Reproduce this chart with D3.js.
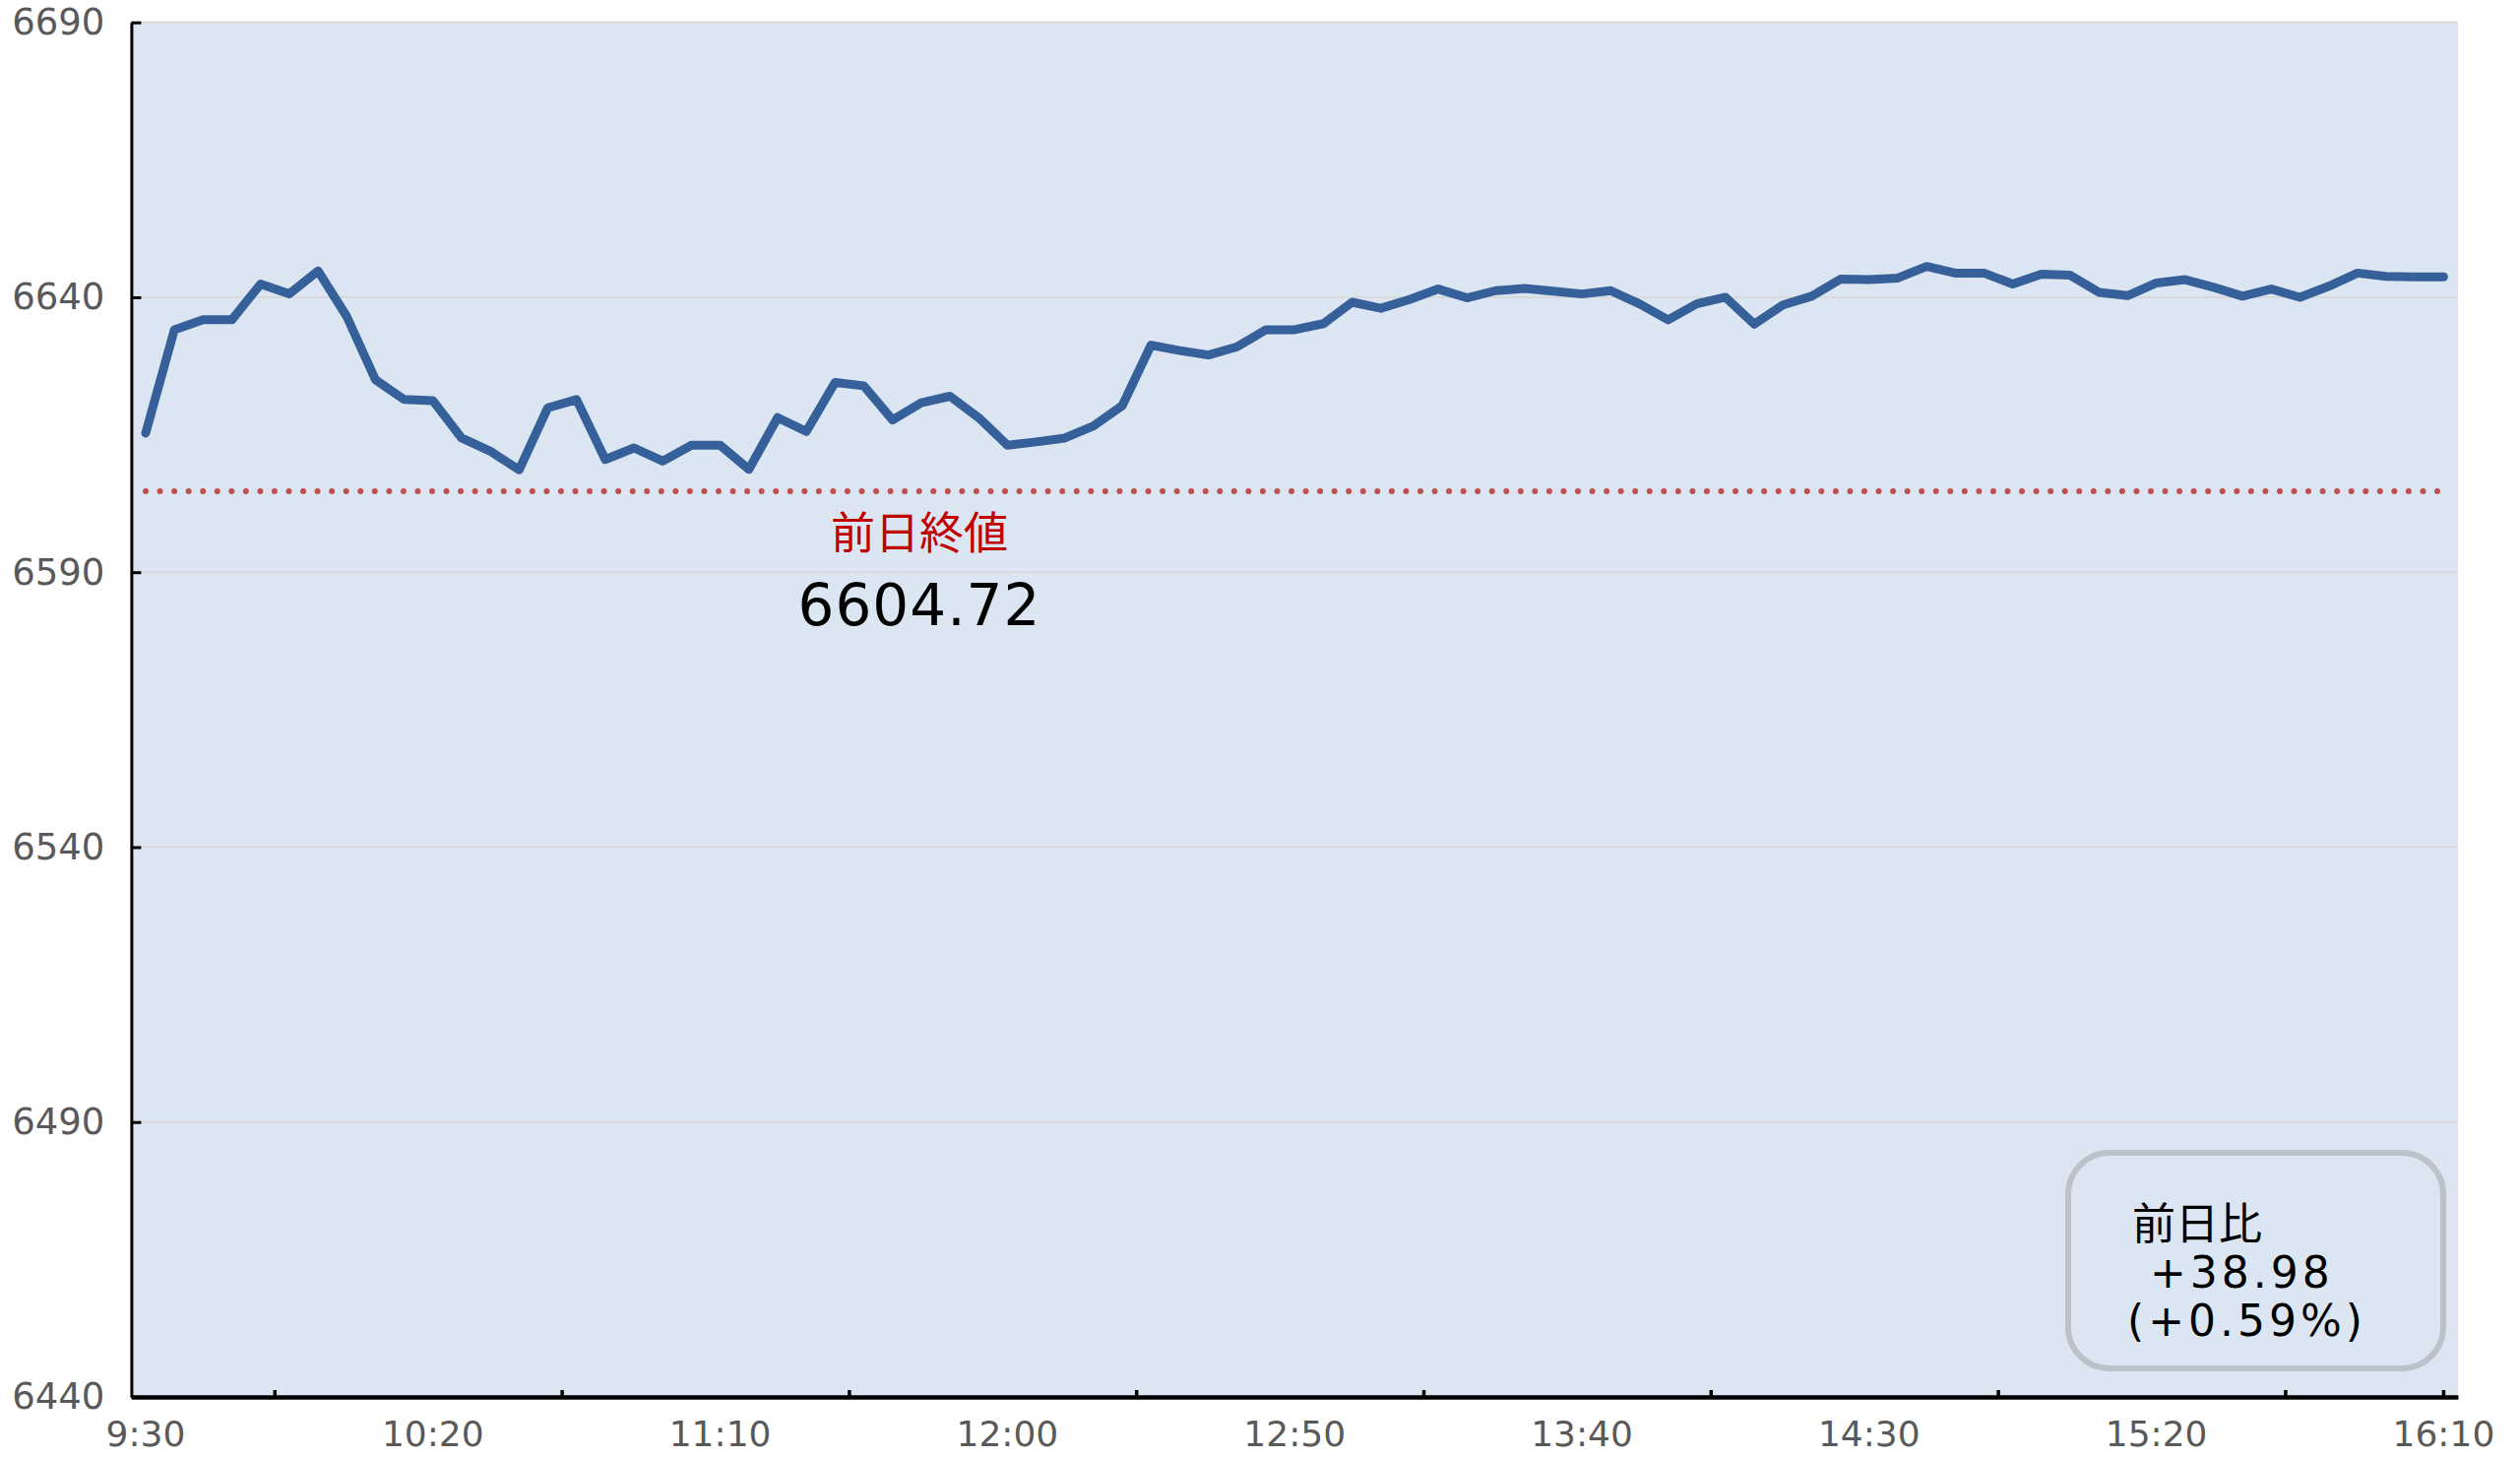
<!DOCTYPE html>
<html><head><meta charset="utf-8">
<script src="https://cdn.jsdelivr.net/npm/d3@7"></script>
<style>
html,body{margin:0;padding:0;background:#fff;}
svg{display:block;}
text{font-family:"DejaVu Sans","Noto Sans CJK JP",sans-serif;}
</style></head>
<body>
<svg id="chart" width="2560" height="1480"></svg>
<script>
const times = ["9:30","9:35","9:40","9:45","9:50","9:55","10:00","10:05","10:10","10:15",
"10:20","10:25","10:30","10:35","10:40","10:45","10:50","10:55","11:00","11:05",
"11:10","11:15","11:20","11:25","11:30","11:35","11:40","11:45","11:50","11:55",
"12:00","12:05","12:10","12:15","12:20","12:25","12:30","12:35","12:40","12:45",
"12:50","12:55","13:00","13:05","13:10","13:15","13:20","13:25","13:30","13:35",
"13:40","13:45","13:50","13:55","14:00","14:05","14:10","14:15","14:20","14:25",
"14:30","14:35","14:40","14:45","14:50","14:55","15:00","15:05","15:10","15:15",
"15:20","15:25","15:30","15:35","15:40","15:45","15:50","15:55","16:00","16:05","16:10"];
const prices = [6615.3,6634.1,6635.9,6635.9,6642.4,6640.6,6644.8,6636.5,6625.0,6621.4,
6621.2,6614.4,6612.0,6608.6,6619.9,6621.4,6610.5,6612.6,6610.2,6613.1,
6613.1,6608.7,6618.1,6615.6,6624.5,6623.9,6617.7,6620.8,6622.0,6618.1,
6613.1,6613.7,6614.4,6616.6,6620.3,6631.3,6630.3,6629.5,6631.0,6634.1,
6634.1,6635.2,6639.1,6638.0,6639.6,6641.5,6639.9,6641.2,6641.6,6641.1,
6640.6,6641.2,6638.8,6635.9,6638.8,6640.0,6635.1,6638.6,6640.2,6643.3,
6643.2,6643.5,6645.6,6644.4,6644.4,6642.4,6644.2,6644.0,6640.9,6640.3,
6642.6,6643.2,6641.8,6640.2,6641.5,6640.0,6642.0,6644.4,6643.8,6643.7,6643.7];
const prevClose = 6604.72;
const yTicks = [6440, 6490, 6540, 6590, 6640, 6690];
const xLabels = ["9:30","10:20","11:10","12:00","12:50","13:40","14:30","15:20","16:10"];
const xTickMarks = ["9:55","10:45","11:35","12:25","13:15","14:05","14:55","15:45","16:10"];
const prevLabel = "前日終値";
const changeLines = ["前日比", " +38.98", "(+0.59%)"];

const svg = d3.select("#chart");
const L = 133.4, R = 2497, T = 22.7, B = 1419;

const x = d3.scaleBand().domain(times).range([L, R]).padding(0);
const cx = d => x(d) + x.bandwidth() / 2;
const y = d3.scaleLinear().domain([6440, 6690]).range([B, T]);

// plot background
svg.append("rect").attr("x", L).attr("y", T).attr("width", R - L).attr("height", B - T)
  .attr("fill", "#dce6f2");

// gridlines
svg.append("g").selectAll("line").data(yTicks.filter(v => v !== 6440)).join("line")
  .attr("x1", L).attr("x2", R).attr("y1", d => y(d)).attr("y2", d => y(d))
  .attr("stroke", "#d9d9d9").attr("stroke-width", 2);

// y axis
const yAxis = d3.axisLeft(y).tickValues(yTicks).tickSizeInner(-10).tickSizeOuter(0).tickPadding(27)
  .tickFormat(d3.format("d"));
const gy = svg.append("g").attr("transform", `translate(${L},0)`).call(yAxis);
gy.select(".domain").attr("stroke", "#000").attr("stroke-width", 3);
gy.selectAll(".tick line").attr("stroke", "#000").attr("stroke-width", 3);
gy.selectAll(".tick text").attr("fill", "#595959").attr("font-size", 37)
  .attr("font-family", "DejaVu Sans, sans-serif");

// x axis
const xAxis = d3.axisBottom(x).tickValues(xLabels).tickSize(0).tickPadding(0);
const gx = svg.append("g").attr("transform", `translate(0,${B})`).call(xAxis);
gx.select(".domain").attr("stroke", "#000").attr("stroke-width", 4.5);
gx.selectAll(".tick text").attr("fill", "#595959").attr("font-size", 36)
  .attr("dy", null).attr("y", 50).attr("font-family", "DejaVu Sans, sans-serif");
svg.append("g").selectAll("line").data(xTickMarks).join("line")
  .attr("x1", d => d === "16:10" ? cx(d) : x(d)).attr("x2", d => d === "16:10" ? cx(d) : x(d))
  .attr("y1", B).attr("y2", B - 7)
  .attr("stroke", "#000").attr("stroke-width", 3.5);

// previous close dotted line
svg.append("line")
  .attr("x1", cx(times[0])).attr("x2", cx(times[times.length - 1]))
  .attr("y1", y(prevClose)).attr("y2", y(prevClose))
  .attr("stroke", "#c0504d").attr("stroke-width", 6).attr("stroke-linecap", "round")
  .attr("stroke-dasharray", "0 14.55");

// price line
const line = d3.line().x((d, i) => cx(times[i])).y(d => y(d));
svg.append("path").datum(prices).attr("d", line)
  .attr("fill", "none").attr("stroke", "#36609a").attr("stroke-width", 9)
  .attr("stroke-linejoin", "round").attr("stroke-linecap", "round");

// previous close labels
svg.append("text").attr("x", 934).attr("y", 558).attr("text-anchor", "middle")
  .attr("fill", "#c00000").attr("font-size", 45).attr("font-family", "Noto Sans CJK JP")
  .text(prevLabel);
svg.append("text").attr("x", 934).attr("y", 635).attr("text-anchor", "middle")
  .attr("fill", "#000").attr("font-size", 58).attr("letter-spacing", 1)
  .text(d3.format(".2f")(prevClose));

// change box
svg.append("rect").attr("x", 2101).attr("y", 1171).attr("width", 381).attr("height", 219)
  .attr("rx", 42).attr("ry", 42).attr("fill", "none")
  .attr("stroke", "#bcc2ca").attr("stroke-width", 6);
const tb = svg.append("text").attr("font-size", 44).attr("fill", "#000");
changeLines.forEach((s, i) => {
  tb.append("tspan").attr("x", i === 2 ? 2161 : 2166).attr("y", 1259 + i * 49)
    .attr("letter-spacing", i === 0 ? 0 : 4)
    .attr("xml:space", "preserve").style("white-space", "pre").text(s);
});
</script>
</body></html>
